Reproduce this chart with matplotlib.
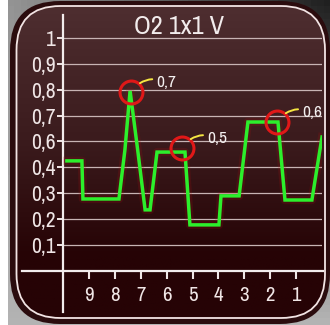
import numpy as np
import matplotlib
matplotlib.use('Agg')
import matplotlib.pyplot as plt
from matplotlib import font_manager
from matplotlib.patches import FancyBboxPatch

# pick a narrow face if one is installed
names = sorted({f.name for f in font_manager.fontManager.ttflist})
narrow = [n for n in names if 'Narrow' in n or 'Condensed' in n]
plt.rcParams['font.family'] = narrow[:1] + ['DejaVu Sans']

# data (axis units: 0.1 per grid line)
x_vals = [9.85, 9.27, 9.23, 7.84, 7.61, 7.41, 7.12, 6.83, 6.64, 6.37, 5.29,
          5.10, 3.98, 3.90, 3.20, 2.86, 1.70, 1.43, 0.39, 0.0]
y_vals = [0.425, 0.425, 0.278, 0.278, 0.467, 0.695, 0.470, 0.236, 0.236, 0.459,
          0.459, 0.178, 0.178, 0.290, 0.290, 0.575, 0.575, 0.274, 0.274, 0.517]

mark_x = [7.37, 5.41, 1.74]
mark_y = [0.691, 0.475, 0.575]
mark_labels = ['0,7', '0,5', '0,6']

y_ticks = [0.1, 0.2, 0.3, 0.4, 0.5, 0.6, 0.7, 0.8, 0.9]
y_tick_labels = ['0,1', '0,2', '0,3', '0,4', '0,6', '0,7', '0,8', '0,9', '1']
x_ticks = [9, 8, 7, 6, 5, 4, 3, 2, 1]
x_tick_labels = ['9', '8', '7', '6', '5', '4', '3', '2', '1']

title = 'O2 1x1 V'

W, H = 330, 325
fig = plt.figure(figsize=(W / 100, H / 100), dpi=100)
fig.patch.set_facecolor('white')

# background panel, pixel coords
bg = fig.add_axes([0, 0, 1, 1])
bg.set_xlim(0, W)
bg.set_ylim(H, 0)
bg.axis('off')

# grey bezel
gx, gy = np.meshgrid(np.linspace(0, 1, 50), np.linspace(0, 1, 50))
bez = 0.58 - 0.45 * gx * (1 - gy) + 0.12 * gy
bg.imshow(bez, cmap='gray', vmin=0, vmax=1, extent=(8, W, H, 0), aspect='auto', zorder=0)

rim = FancyBboxPatch((10, 1), 320, 323, boxstyle='round,pad=0,rounding_size=50',
                     fc='#2b0c0e', ec='none', zorder=1)
bg.add_patch(rim)

inner = FancyBboxPatch((16.5, 6), 308.5, 312, boxstyle='round,pad=0,rounding_size=44',
                       fc='none', ec='#f2e4e4', lw=1.3, zorder=3)
bg.add_patch(inner)
top_c = np.array([0x4e, 0x2e, 0x30]) / 255
mid_c = np.array([0x3a, 0x1a, 0x1c]) / 255
bot_c = np.array([0x26, 0x03, 0x05]) / 255
t = np.linspace(0, 1, 200)[:, None]
grad = np.where(t < 0.45, top_c + (mid_c - top_c) * (t / 0.45),
                mid_c + (bot_c - mid_c) * np.clip((t - 0.45) / 0.35, 0, 1))
grad = grad[:, None, :].repeat(2, axis=1)
gim = bg.imshow(grad, extent=(16.5, 325, 318, 6), aspect='auto', zorder=2)
clip = FancyBboxPatch((16.5, 6), 308.5, 312, boxstyle='round,pad=0,rounding_size=44',
                      transform=bg.transData, fc='none', ec='none')
bg.add_patch(clip)
gim.set_clip_path(clip)

bg.text(178.5, 26, title, color='#f2ecec', fontsize=19, ha='center', va='center', zorder=4)

# chart
ax = fig.add_axes([63 / W, 54 / H, 259 / W, 256 / H])
ax.set_facecolor('none')
for s in ax.spines.values():
    s.set_visible(False)
ax.set_xlim(10, 0)
ax.set_ylim(0, 0.988)

ax.set_yticks(y_ticks)
ax.set_yticklabels(y_tick_labels)
ax.set_xticks(x_ticks)
ax.set_xticklabels(x_tick_labels)
ax.grid(axis='y', color='#c8b4b4', lw=0.9)
ax.tick_params(axis='y', colors='#f0e6e6', length=4.3, width=1.4, pad=1.2, labelsize=15.5)
ax.tick_params(axis='x', colors='#f0e6e6', length=6, width=1.5, pad=5, labelsize=15)

ax.axvline(10, ymin=-0.16, ymax=1.0, color='#f2ecec', lw=1.6, clip_on=False)
ax.axhline(0, xmin=-0.158, xmax=1.004, color='#f2ecec', lw=1.6, clip_on=False)

ax.plot(x_vals, y_vals, color='#b01010', lw=6, alpha=0.18, solid_joinstyle='round')
ax.plot(x_vals, y_vals, color='#2cef2c', lw=2.5, solid_joinstyle='miter')

ax.plot(mark_x, mark_y, 'o', mfc='none', mec='#e01818', ms=16.5, mew=2.2)
for mx, my, lab in zip(mark_x, mark_y, mark_labels):
    ax.annotate(lab, xy=(mx, my), xytext=(18.2, 7), textcoords='offset points',
                ha='left', va='center', color='#f4f0f0', fontsize=12.5,
                arrowprops=dict(arrowstyle='-', color='#f5e642', lw=1.4,
                                shrinkA=1, shrinkB=9,
                                connectionstyle='arc3,rad=0.4'))

fig.savefig('out.png', dpi=100)
